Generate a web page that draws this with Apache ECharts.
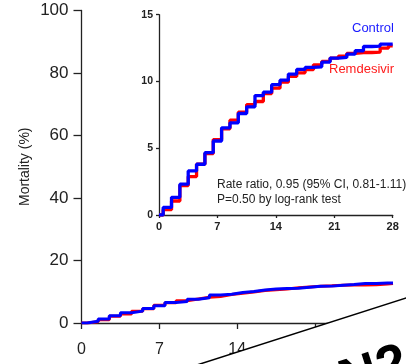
<!DOCTYPE html>
<html>
<head>
<meta charset="utf-8">
<style>
  html, body { margin: 0; padding: 0; background: #fff; }
  #chart { width: 406px; height: 364px; }
</style>
<script src="https://cdn.jsdelivr.net/npm/echarts@6/dist/echarts.min.js"></script>
</head>
<body>
<div id="chart"></div>
<script>
// step positions (days) shared by both curves
var days = [0, 0.5, 1.5, 2.5, 3.5, 4.5, 5.5, 6.5, 7.5, 8.5, 9.5, 10.5, 11.5, 12.5, 13.5,
  14.5, 15.5, 16.5, 17.5, 18.5, 19.5, 20.5, 21.5, 22.5, 23.5, 24.5, 25.5, 26.5, 27.5, 28];
// cumulative mortality (%)
var control = [0, 0.57, 1.32, 2.31, 3.3, 3.8, 4.67, 5.54, 6.53, 6.9, 7.6, 8.1, 8.94, 9.2, 9.76,
  10.1, 10.55, 10.9, 11.05, 11.1, 11.45, 11.75, 11.8, 12.05, 12.3, 12.62, 12.65, 12.8, 12.8, 12.8];
var remdesivir = [0, 0.4, 1.05, 2.2, 2.88, 3.8, 4.6, 5.65, 6.45, 7.1, 7.7, 8.27, 8.5, 9.1, 9.5,
  9.95, 10.38, 10.65, 10.88, 11.25, 11.5, 11.75, 11.9, 12.1, 12.17, 12.17, 12.2, 12.5, 12.67, 12.67];

var FONT = 'Liberation Sans';
var chart = echarts.init(document.getElementById('chart'), null, { renderer: 'canvas' });

function pairs(vals) {
  return days.map(function (d, i) { return [d, vals[i]]; });
}

function axisStyle(tickLen) {
  return {
    axisLine: { show: true, lineStyle: { color: '#222', width: 1.3 } },
    axisTick: { show: true, length: tickLen, lineStyle: { color: '#222', width: 1.3 } },
    splitLine: { show: false }
  };
}

var option = {
  animation: false,
  backgroundColor: '#fff',
  grid: [
    { left: 81.5, top: 10.5, right: 13, bottom: 41 },
    { left: 159, top: 14.7, right: 13.3, bottom: 149 }
  ],
  xAxis: [
    Object.assign({
      type: 'value', gridIndex: 0, min: 0, max: 28, interval: 7,
      axisLabel: { margin: 19, fontFamily: FONT, fontSize: 16, color: '#222' }
    }, axisStyle(6)),
    Object.assign({
      type: 'value', gridIndex: 1, min: 0, max: 28, interval: 7,
      axisLabel: { margin: 6, fontFamily: FONT, fontSize: 11, fontWeight: 'bold', color: '#222' }
    }, axisStyle(3))
  ],
  yAxis: [
    Object.assign({
      type: 'value', gridIndex: 0, min: 0, max: 100, interval: 20,
      name: 'Mortality (%)', nameLocation: 'middle', nameRotate: 90, nameGap: 49,
      nameMoveOverlap: false,
      nameTextStyle: { fontFamily: FONT, fontSize: 14, color: '#222' },
      axisLabel: { margin: 13, fontFamily: FONT, fontSize: 17, color: '#222' }
    }, axisStyle(8)),
    Object.assign({
      type: 'value', gridIndex: 1, min: 0, max: 15, interval: 5,
      axisLabel: { margin: 6, fontFamily: FONT, fontSize: 10.5, fontWeight: 'bold', color: '#222' }
    }, axisStyle(3))
  ],
  series: [
    { name: 'Remdesivir', type: 'line', step: 'end', xAxisIndex: 0, yAxisIndex: 0, showSymbol: false,
      lineStyle: { color: '#ff0000', width: 3 }, data: pairs(remdesivir) },
    { name: 'Control', type: 'line', step: 'end', xAxisIndex: 0, yAxisIndex: 0, showSymbol: false,
      lineStyle: { color: '#0000ff', width: 3 }, data: pairs(control) },
    { name: 'Remdesivir', type: 'line', step: 'end', xAxisIndex: 1, yAxisIndex: 1, showSymbol: false,
      lineStyle: { color: '#ff0000', width: 3.3 }, data: pairs(remdesivir) },
    { name: 'Control', type: 'line', step: 'end', xAxisIndex: 1, yAxisIndex: 1, showSymbol: false,
      lineStyle: { color: '#0000ff', width: 3.3 }, data: pairs(control) }
  ],
  graphic: [
    { type: 'text', left: 352, top: 22, z: 50,
      style: { text: 'Control', fill: '#1a1aff', font: '13px "Liberation Sans"' } },
    { type: 'text', left: 329, top: 63, z: 50,
      style: { text: 'Remdesivir', fill: '#ff1a1a', font: '13px "Liberation Sans"' } },
    { type: 'text', left: 217, top: 179, z: 50,
      style: { text: 'Rate ratio, 0.95 (95% CI, 0.81-1.11)', fill: '#222', font: '12px "Liberation Sans"' } },
    { type: 'text', left: 217, top: 194, z: 50,
      style: { text: 'P=0.50 by log-rank test', fill: '#222', font: '12px "Liberation Sans"' } },
    // overlapping page in the lower right corner
    { type: 'polygon', z: 100,
      shape: { points: [[185, 368.8], [420, 293.5], [420, 380], [185, 380]] },
      style: { fill: '#fff' } },
    { type: 'line', z: 101,
      shape: { x1: 185, y1: 368.8, x2: 420, y2: 293.5 },
      style: { stroke: '#000', lineWidth: 1.5 } },
    { type: 'text', x: 333, y: 358, rotation: 0.31, z: 102,
      style: { text: 'N2', fill: '#000', font: 'bold 54px "Liberation Sans"', textVerticalAlign: 'top' } }
  ]
};

chart.setOption(option);
</script>
</body>
</html>
